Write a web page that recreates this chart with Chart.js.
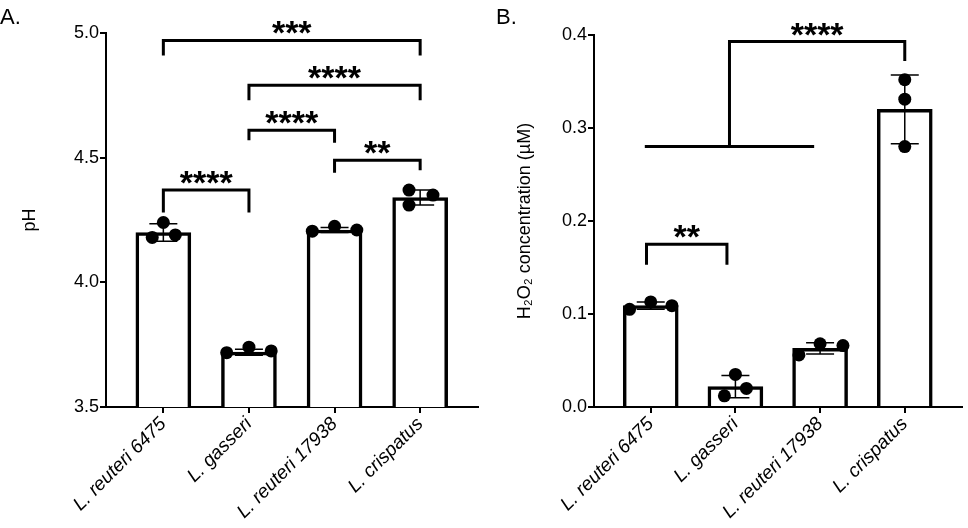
<!DOCTYPE html>
<html>
<head>
<meta charset="utf-8">
<script src="https://cdn.jsdelivr.net/npm/chart.js@4.4.1/dist/chart.umd.min.js"></script>
<style>
  body { margin: 0; background: #fff; width: 968px; height: 528px; position: relative; overflow: hidden; }
  .panel { position: absolute; top: 0; width: 484px; height: 528px; }
  .tag { position: absolute; top: 4px; font: 22px 'Liberation Sans', Arial, sans-serif; color: #000; }
</style>
</head>
<body>
<div class="panel" style="left:0"><canvas id="chartA" width="484" height="528"></canvas></div>
<div class="panel" style="left:484px"><canvas id="chartB" width="484" height="528"></canvas></div>
<div class="tag" style="left:0">A.</div>
<div class="tag" style="left:496px">B.</div>
<script>
// strains on the x axis (same for both panels)
const categories = ['L. reuteri 6475', 'L. gasseri', 'L. reuteri 17938', 'L. crispatus'];

// panel A: pH
const phMean = [4.20, 3.72, 4.21, 4.34];
const phSd = [0.035, 0.012, 0.01, 0.03];
const phPoints = [[4.18, 4.24, 4.19], [3.718, 3.74, 3.725], [4.205, 4.225, 4.21], [4.37, 4.31, 4.35]];
const phJitter = [[-0.13, 0, 0.14], [-0.26, 0, 0.26], [-0.26, 0, 0.26], [-0.13, -0.13, 0.15]];
const phTicks = [3.5, 4.0, 4.5, 5.0];

// panel B: H2O2
const h2o2Mean = [0.109, 0.022, 0.063, 0.320];
const h2o2Sd = [0.004, 0.012, 0.006, 0.037];
const h2o2Points = [[0.105, 0.113, 0.109], [0.012, 0.035, 0.020], [0.056, 0.068, 0.066], [0.352, 0.331, 0.280]];
const h2o2Jitter = [[-0.25, 0, 0.25], [-0.13, 0, 0.13], [-0.25, 0, 0.27], [0, 0, 0]];
const h2o2Ticks = [0.0, 0.1, 0.2, 0.3, 0.4];

// significance brackets
const bracketsA = [
  { from: 0, to: 1, top: 4.37, legL: 4.28, legR: 4.28, text: '****' },
  { from: 2, to: 3, top: 4.49, legL: 4.44, legR: 4.45, text: '**' },
  { from: 1, to: 2, top: 4.61, legL: 4.57, legR: 4.56, text: '****' },
  { from: 1, to: 3, top: 4.79, legL: 4.73, legR: 4.73, text: '****' },
  { from: 0, to: 3, top: 4.97, legL: 4.91, legR: 4.91, text: '***' }
];
const bracketsB = [
  { from: -0.05, to: 0.9, top: 0.175, legL: 0.153, legR: 0.153, text: '**' }
];
const groupB = { from: -0.07, to: 1.93, base: 0.28, top: 0.393, target: 3, leg: 0.372, text: '****' };

const FONT = "'Liberation Sans', Arial, sans-serif";
Chart.defaults.font.family = FONT;
Chart.defaults.color = '#000';

const errorBars = {
  id: 'errorBars',
  afterDatasetDraw(chart, args, opts) {
    if (args.index !== 0) return;
    const xs = chart.scales.x, ys = chart.scales.y, ctx = chart.ctx;
    ctx.save();
    ctx.strokeStyle = '#000';
    ctx.lineWidth = 1.5;
    opts.mean.forEach((m, i) => {
      const px = xs.getPixelForValue(i);
      const hi = ys.getPixelForValue(m + opts.sd[i]);
      const lo = ys.getPixelForValue(m - opts.sd[i]);
      ctx.beginPath();
      ctx.moveTo(px, hi); ctx.lineTo(px, lo);
      ctx.moveTo(px - 14, hi); ctx.lineTo(px + 14, hi);
      ctx.moveTo(px - 14, lo); ctx.lineTo(px + 14, lo);
      ctx.stroke();
    });
    ctx.restore();
  }
};

const brackets = {
  id: 'brackets',
  afterDraw(chart, args, opts) {
    const xs = chart.scales.x, ys = chart.scales.y, ctx = chart.ctx;
    ctx.save();
    ctx.strokeStyle = '#000';
    ctx.fillStyle = '#000';
    ctx.lineWidth = 3;
    ctx.font = 'bold 34px ' + FONT;
    ctx.textAlign = 'center';
    ctx.textBaseline = 'alphabetic';
    (opts.items || []).forEach(b => {
      const x1 = xs.getPixelForValue(b.from), x2 = xs.getPixelForValue(b.to);
      const yt = ys.getPixelForValue(b.top);
      ctx.beginPath();
      ctx.moveTo(x1, ys.getPixelForValue(b.legL));
      ctx.lineTo(x1, yt);
      ctx.lineTo(x2, yt);
      ctx.lineTo(x2, ys.getPixelForValue(b.legR));
      ctx.stroke();
      ctx.fillText(b.text, (x1 + x2) / 2, yt + 4);
    });
    const g = opts.group;
    if (g) {
      const x1 = xs.getPixelForValue(g.from), x2 = xs.getPixelForValue(g.to);
      const mid = (x1 + x2) / 2, yb = ys.getPixelForValue(g.base);
      const yt = ys.getPixelForValue(g.top), xt = xs.getPixelForValue(g.target);
      ctx.beginPath();
      ctx.moveTo(x1, yb); ctx.lineTo(x2, yb);
      ctx.moveTo(mid, yb); ctx.lineTo(mid, yt); ctx.lineTo(xt, yt);
      ctx.lineTo(xt, ys.getPixelForValue(g.leg));
      ctx.stroke();
      ctx.fillText(g.text, (mid + xt) / 2, yt + 4);
    }
    ctx.restore();
  }
};

function makePanel(id, cfg) {
  const bars = cfg.mean.map((v, i) => ({ x: i, y: v }));
  const dots = [];
  cfg.points.forEach((list, i) => list.forEach((v, k) => dots.push({ x: i + cfg.jitter[i][k], y: v })));

  return new Chart(document.getElementById(id), {
    data: {
      datasets: [
        { type: 'bar', data: bars, order: 2, backgroundColor: '#fff', borderColor: '#000',
          borderWidth: 3.5, barThickness: 55 },
        { type: 'scatter', data: dots, order: 1, pointRadius: 6.5, pointBackgroundColor: '#000',
          pointBorderWidth: 0 }
      ]
    },
    options: {
      responsive: false,
      animation: false,
      layout: { padding: { top: cfg.top, right: 2, left: 0, bottom: 0 } },
      plugins: {
        legend: { display: false },
        tooltip: { enabled: false },
        errorBars: { mean: cfg.mean, sd: cfg.sd },
        brackets: { items: cfg.brackets, group: cfg.group }
      },
      scales: {
        x: {
          type: 'linear', min: -0.67, max: 3.67, offset: false,
          afterBuildTicks(s) { s.ticks = categories.map((c, i) => ({ value: i })); },
          afterFit(s) { s.height = 121; },
          ticks: { callback: v => categories[v], minRotation: 45, maxRotation: 45, autoSkip: false,
                   font: { size: 19, style: 'italic' }, color: '#000', padding: 0 },
          grid: { offset: false, drawOnChartArea: false, tickLength: 6, color: '#000', lineWidth: 2 },
          border: { color: '#000', width: 2 }
        },
        y: {
          min: cfg.ticks[0], max: cfg.ticks[cfg.ticks.length - 1],
          afterBuildTicks(s) { s.ticks = cfg.ticks.map(v => ({ value: v })); },
          afterFit(s) { s.width = cfg.yWidth; },
          ticks: { callback: v => v.toFixed(1), font: { size: 18 }, color: '#000', padding: 1 },
          grid: { drawOnChartArea: false, tickLength: 6, color: '#000', lineWidth: 2 },
          border: { color: '#000', width: 2 },
          title: { display: true, text: cfg.title, font: { size: 18 }, color: '#000',
                   padding: { top: cfg.titlePad, bottom: 0 } }
        }
      }
    },
    plugins: [errorBars, brackets]
  });
}

makePanel('chartA', { mean: phMean, sd: phSd, points: phPoints, jitter: phJitter, ticks: phTicks,
  brackets: bracketsA, group: null, top: 33, yWidth: 106, title: 'pH', titlePad: 19 });
makePanel('chartB', { mean: h2o2Mean, sd: h2o2Sd, points: h2o2Points, jitter: h2o2Jitter, ticks: h2o2Ticks,
  brackets: bracketsB, group: groupB, top: 35, yWidth: 110, title: 'H₂O₂ concentration (µM)', titlePad: 30 });
</script>
</body>
</html>
